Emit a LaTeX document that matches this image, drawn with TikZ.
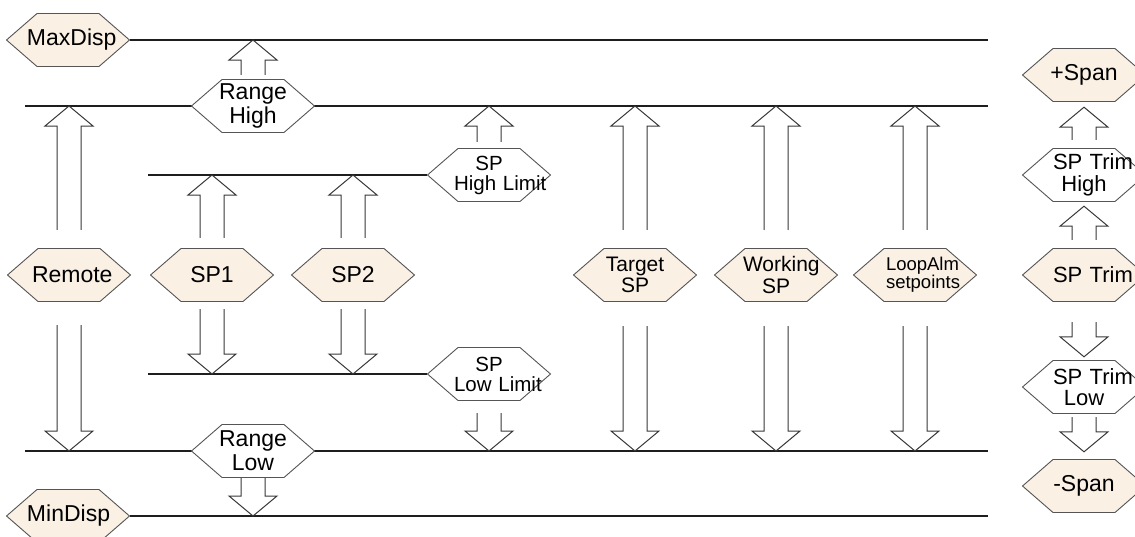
\documentclass[tikz,border=0pt]{standalone}
\usepackage{fontspec}
\setmainfont{Liberation Sans}
\usetikzlibrary{calc,backgrounds}
\definecolor{hxcream}{RGB}{250,240,228}
\definecolor{hxedge}{RGB}{85,85,85}
\definecolor{lvline}{RGB}{30,30,30}
\definecolor{arrline}{RGB}{55,55,55}
\newcommand\fbig{\fontsize{23}{24}\selectfont}
\newcommand\fmid{\fontsize{21}{21.7}\selectfont}
\newcommand\ftrim{\fontsize{22}{21.7}\selectfont}
\newcommand\flim{\fontsize{20.5}{20}\selectfont}
\newcommand\fsml{\fontsize{18.5}{17}\selectfont}
\lineskiplimit=-20pt
\tikzset{
  hexa/.style={minimum width=124pt, minimum height=54pt, inner sep=0pt,
    text width=70pt, align=center, font=\fbig,
    path picture={\draw[draw=hxedge, line width=0.9pt, fill=#1]
      ([xshift=0.5pt]path picture bounding box.west)
      -- ([xshift=31pt,yshift=-0.5pt]path picture bounding box.north west)
      -- ([xshift=-31pt,yshift=-0.5pt]path picture bounding box.north east)
      -- ([xshift=-0.5pt]path picture bounding box.east)
      -- ([xshift=-31pt,yshift=0.5pt]path picture bounding box.south east)
      -- ([xshift=31pt,yshift=0.5pt]path picture bounding box.south west)
      -- cycle;}},
  hexa/.default=hxcream,
  level/.style={draw=lvline, line width=2.5pt},
  blkarr/.style={draw=arrline, line width=1pt, line join=miter}
}
% hollow block arrow from #1 (shaft end) to #2 (tip)
\newcommand\blk[2]{\draw[blkarr] let \p1=#1, \p2=#2, \n1={ifthenelse(\y2>\y1,20,-20)} in
  ({\x1-12pt},\y1) -- ({\x1-12pt},{\y2-\n1}) -- ({\x1-24pt},{\y2-\n1}) -- (\x1,\y2)
  -- ({\x1+24pt},{\y2-\n1}) -- ({\x1+12pt},{\y2-\n1}) -- ({\x1+12pt},\y1);}

\begin{document}
\begin{tikzpicture}[x=1pt, y=-1pt]
  \useasboundingbox (0,0) rectangle (1135,536);
  \coordinate (maxE) at (988,40);
  \coordinate (rhW) at (25,106);
  \coordinate (rhE) at (988,106);
  \coordinate (lhW) at (148,175);
  \coordinate (llW) at (148,374);
  \coordinate (rlW) at (25,451);
  \coordinate (rlE) at (988,451);
  \coordinate (minE) at (988,516);

  % display and range limits
  \node[hexa, text width=82pt] (maxdisp) at (68,40) {MaxDisp};
  \node[hexa=white] (rangehi) at (253,106) {Range\\High};
  \node[hexa=white] (rangelo) at (253,451) {Range\\Low};
  \node[hexa, text width=82pt] (mindisp) at (68,516) {MinDisp};

  % setpoint sources
  \node[hexa, text width=74pt] (remote) at (69,275) {Remote};
  \node[hexa] (spone) at (212,275) {SP1};
  \node[hexa] (sptwo) at (353,275) {SP2};
  \node[hexa=white, font=\flim] (sphilim) at (489,175) {SP\\High~Limit};
  \node[hexa=white, font=\flim] (splolim) at (489,374) {SP\\Low~Limit};
  \node[hexa, font=\fmid] (target) at (635,275) {Target\\SP};
  \node[hexa, font=\fmid, text width=66pt] (working) at (776,275) {Working\\SP};
  \node[hexa, font=\fsml, text width=58pt] (loopalm) at (915,275) {LoopAlm\\setpoints};

  % trim column
  \node[hexa] (pspan) at (1084,75) {+Span};
  \node[hexa=white, font=\ftrim, text width=62pt] (trimhi) at (1084,175) {SP~Trim\\High};
  \node[hexa, font=\ftrim, text width=62pt] (trim) at (1084,275) {SP~Trim};
  \node[hexa=white, font=\ftrim, text width=62pt] (trimlo) at (1084,387) {SP~Trim\\Low};
  \node[hexa] (mspan) at (1084,486) {-Span};

  \begin{scope}[on background layer]
    \draw[level] (maxdisp.east) -- (maxE);
    \draw[level] (rhW) -- (rhE);
    \draw[level] (lhW) -- (sphilim.west);
    \draw[level] (llW) -- (splolim.west);
    \draw[level] (rlW) -- (rlE);
    \draw[level] (mindisp.east) -- (minE);
  \end{scope}

  \blk{($(rangehi.north)+(0,-4)$)}{(rangehi.north |- maxE)}
  \blk{(rangelo.south)}{(rangelo.south |- minE)}
  \blk{($(remote.north)+(0,-18)$)}{(remote.north |- rhW)}
  \blk{($(remote.south)+(0,23)$)}{(remote.south |- rlW)}
  \blk{($(spone.north)+(0,-10)$)}{(spone.north |- lhW)}
  \blk{($(spone.south)+(0,7)$)}{(spone.south |- llW)}
  \blk{($(sptwo.north)+(0,-10)$)}{(sptwo.north |- lhW)}
  \blk{($(sptwo.south)+(0,7)$)}{(sptwo.south |- llW)}
  \blk{($(sphilim.north)+(0,-6)$)}{(sphilim.north |- rhW)}
  \blk{($(splolim.south)+(0,12)$)}{(splolim.south |- rlW)}
  \foreach \hx in {target,working,loopalm}{
    \blk{($(\hx.north)+(0,-18)$)}{(\hx.north |- rhW)}
    \blk{($(\hx.south)+(0,24)$)}{(\hx.south |- rlW)}
  }
  \blk{($(trim.north)+(0,-8)$)}{($(trimhi.south)+(0,4)$)}
  \blk{($(trimhi.north)+(0,-8)$)}{($(pspan.south)+(0,5)$)}
  \blk{($(trim.south)+(0,20)$)}{($(trimlo.north)+(0,-3)$)}
  \blk{($(trimlo.south)+(0,3)$)}{($(mspan.north)+(0,-7)$)}
\end{tikzpicture}
\end{document}
